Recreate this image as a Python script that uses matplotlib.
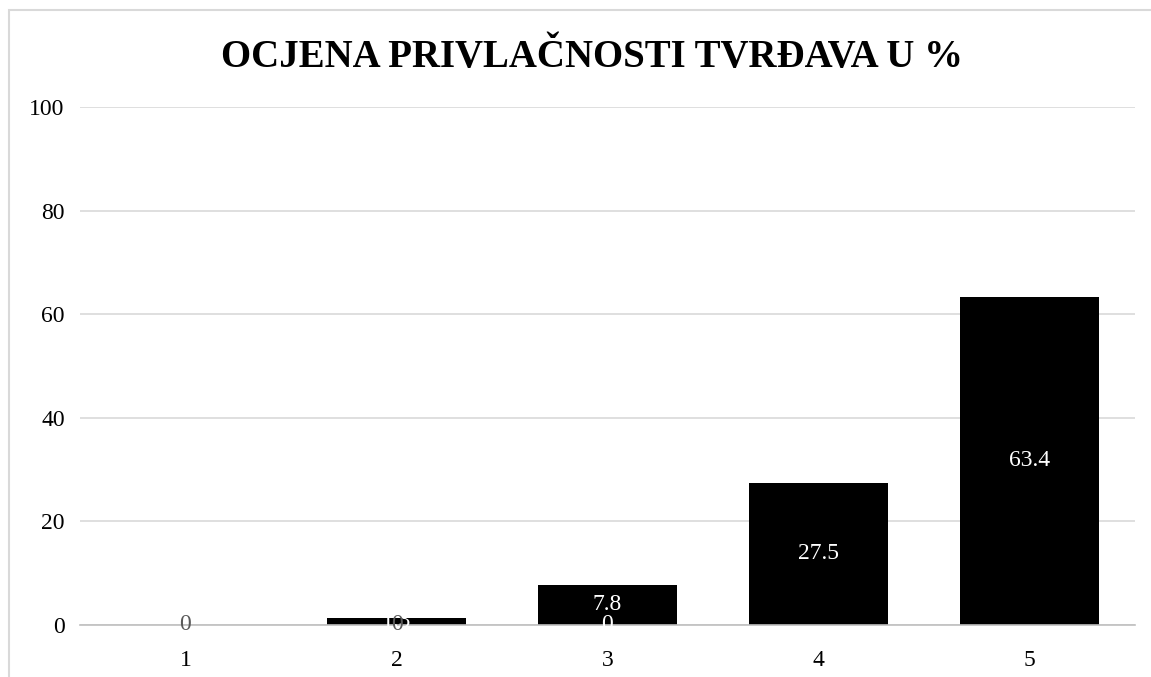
import matplotlib.pyplot as plt
from matplotlib.patches import Rectangle

categories = ['1', '2', '3', '4', '5']
values = [0, 1.3, 7.8, 27.5, 63.4]
value_labels = ['0', '1.3', '7.8', '27.5', '63.4']
# zero labels of the second (empty) series at the first three ratings
zero_labels = ['0', '0', '0']
zero_colors = ['#595959', '#595959', '#ffffff']

plt.rcParams['font.family'] = ['Liberation Serif', 'DejaVu Serif']

fig = plt.figure(figsize=(11.51, 6.77), dpi=100)
fig.patches.append(Rectangle((9 / 1151, -0.1), 1.2, 1 - 10 / 677 + 0.1,
                             transform=fig.transFigure, fill=False,
                             edgecolor='#d9d9d9', linewidth=1.5))

ax = fig.add_axes([80 / 1151, 1 - 625 / 677, 1055 / 1151, (625 - 107) / 677])
x = list(range(len(categories)))
bars = ax.bar(x, values, width=0.66, color='black', zorder=2)

for i, (b, lab) in enumerate(zip(bars, value_labels)):
    if values[i] > 0:
        ax.text(b.get_x() + b.get_width() / 2, values[i] / 2 if values[i] > 5 else 0.6,
                lab, ha='center', va='center', color='white', fontsize=17, zorder=3)

for i, (lab, col) in enumerate(zip(zero_labels, zero_colors)):
    ax.text(x[i], 0, lab, ha='center', va='center', color=col, fontsize=17, zorder=4)

ax.set_xlim(-0.5, len(categories) - 0.5)
ax.set_ylim(0, 100)
ax.set_yticks([0, 20, 40, 60, 80, 100])
ax.set_xticks(x)
ax.set_xticklabels(categories)
ax.tick_params(axis='both', length=0, labelsize=17, colors='black')
ax.tick_params(axis='y', pad=11)
ax.tick_params(axis='x', pad=18)
ax.yaxis.grid(True, color='#d9d9d9', linewidth=1.2, zorder=0)
ax.set_axisbelow(True)
for side in ['top', 'right', 'left']:
    ax.spines[side].set_visible(False)
ax.spines['bottom'].set_color('#bfbfbf')
ax.spines['bottom'].set_linewidth(1.2)

fig.text(592 / 1151, 1 - 57 / 677, 'OCJENA PRIVLAČNOSTI TVRĐAVA U %', ha='center',
         va='center', fontsize=28, fontweight='bold')

fig.savefig('out.png', dpi=100)
